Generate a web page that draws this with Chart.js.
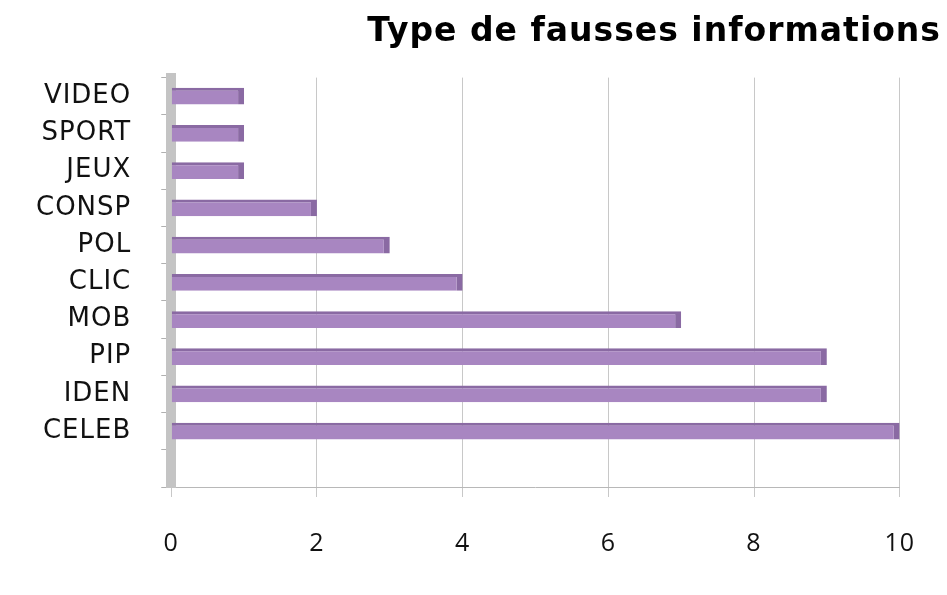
<!DOCTYPE html>
<html><head><meta charset="utf-8">
<script src="https://cdn.jsdelivr.net/npm/chart.js@4/dist/chart.umd.min.js"></script>
<style>html,body{margin:0;padding:0;background:#fff}#wrap{width:947px;height:595px}</style>
</head><body><div id="wrap"><canvas id="c" width="947" height="595"></canvas></div>
<script>
const categories = ["VIDEO","SPORT","JEUX","CONSP","POL","CLIC","MOB","PIP","IDEN","CELEB",""];
const values = [1,1,1,2,3,4,7,9,9,10,null];
const xTicks = [0,2,4,6,8,10];
const titleText = "Type de fausses informations";

const spacing = {
  id: 'spacing',
  beforeDraw(chart) { chart.ctx.letterSpacing = '1px'; },
  beforeLayout(chart) { chart.ctx.letterSpacing = '1px'; }
};

new Chart(document.getElementById('c'), {
  type: 'bar',
  data: { labels: categories, datasets: [{ data: values, backgroundColor: '#a886c1', borderColor: '#8a6aa3', borderWidth: {top:3,left:0,bottom:0,right:6}, barPercentage: 0.45, categoryPercentage: 1 }] },
  plugins: [spacing],
  options: {
    indexAxis: 'y', responsive: false, animation: false,
    layout: { padding: { left: 6, right: 6, top: 0, bottom: 4 } },
    plugins: {
      legend: { display: false }, tooltip: { enabled: false },
      title: { display: true, text: titleText, align: 'end', color: '#000',
        font: { family: 'DejaVu Sans', size: 33, weight: 'bold' }, padding: { top: 13, bottom: 25 } }
    },
    scales: {
      x: { min: 0, max: 10, afterBuildTicks: a => { a.ticks = xTicks.map(v => ({value: v})); },
        grid: { color: '#c8c8c8', lineWidth: 1, tickLength: 10 },
        border: { color: '#b8b8b8' },
        ticks: { color: '#111', font: { family: 'Open Sans', size: 25 }, padding: 32 } },
      y: { grid: { display: true, drawOnChartArea: false, offset: true, color: '#b0b0b0', tickLength: 10 },
        border: { color: '#c4c4c4', width: 10 },
        ticks: { color: '#111', font: { family: 'DejaVu Sans', size: 26 }, padding: 30 } },
      y2: { type: 'linear', position: 'right', display: true, grid: { display: false }, border: { display: false },
        ticks: { display: false }, afterFit: s => { s.width = 30; } }
    }
  }
});
</script></body></html>
